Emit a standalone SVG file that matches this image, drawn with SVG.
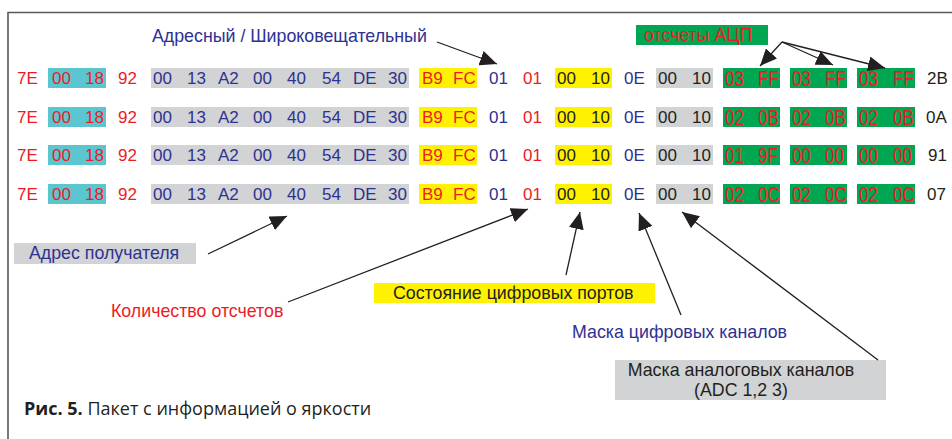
<svg xmlns="http://www.w3.org/2000/svg" width="952" height="439" viewBox="0 0 952 439">
<defs>
<style>
text{font-family:"Liberation Sans",Arial,sans-serif;font-size:17px}
.lb{font-size:17.8px}
.r{fill:#ed1c24}.b{fill:#2e3192}.k{fill:#231f20}
.cy{fill:#5bc5d0}.gr{fill:#d1d3d4}.ye{fill:#fff200}.gn{fill:#00a651}
.cap{font-family:"Open Sans","Noto Sans",sans-serif;font-size:18px;fill:#231f20}
.ln{stroke:#231f20;stroke-width:1.3;fill:none;marker-end:url(#ah)}
</style>
<marker id="ah" markerUnits="userSpaceOnUse" markerWidth="18" markerHeight="15" refX="17" refY="7.5" orient="auto">
<path d="M0,0 L17,7.5 L0,15 z" fill="#231f20"/>
</marker>
<g id="rowbase">
<rect class="cy" x="48" y="0" width="58" height="20"/>
<rect class="gr" x="151" y="0" width="258" height="20"/>
<rect class="ye" x="419" y="0" width="58" height="20"/>
<rect class="ye" x="555" y="0" width="57" height="20"/>
<rect class="gr" x="656" y="0" width="57" height="20"/>
<rect class="gn" x="723" y="0" width="57" height="20"/>
<rect class="gn" x="790" y="0" width="57" height="20"/>
<rect class="gn" x="857" y="0" width="58" height="20"/>
<text class="r" x="17" y="16">7E</text>
<text class="r" x="52" y="16">00</text>
<text class="r" x="85" y="16">18</text>
<text class="r" x="118" y="16">92</text>
<text class="b" x="153" y="16">00</text>
<text class="b" x="187" y="16">13</text>
<text class="b" x="218" y="16">A2</text>
<text class="b" x="253" y="16">00</text>
<text class="b" x="287" y="16">40</text>
<text class="b" x="322" y="16">54</text>
<text class="b" x="353" y="16">DE</text>
<text class="b" x="388" y="16">30</text>
<text class="r" x="422" y="16">B9</text>
<text class="r" x="453" y="16">FC</text>
<text class="b" x="489" y="16">01</text>
<text class="r" x="523" y="16">01</text>
<text class="k" x="557" y="16">00</text>
<text class="k" x="591" y="16">10</text>
<text class="b" x="624" y="16">0E</text>
<text class="k" x="658" y="16">00</text>
<text class="k" x="692" y="16">10</text>
</g>
</defs>
<path d="M8,439 V12.5 H952" fill="none" stroke="#58595b" stroke-width="1.6"/>

<g id="row1" transform="translate(0,68)">
<use href="#rowbase"/>
<g class="r">
<text transform="matrix(1 0 0 1.3 725 18)">03</text><text transform="matrix(1 0 0 1.3 758 18)">FF</text>
<text transform="matrix(1 0 0 1.3 792 18)">03</text><text transform="matrix(1 0 0 1.3 825 18)">FF</text>
<text transform="matrix(1 0 0 1.3 859 18)">03</text><text transform="matrix(1 0 0 1.3 893 18)">FF</text>
</g>
<text class="k" x="927" y="16">2B</text>
</g>
<g id="row2" transform="translate(0,107)">
<use href="#rowbase"/>
<g class="r">
<text transform="matrix(1 0 0 1.3 725 18)">02</text><text transform="matrix(1 0 0 1.3 758 18)">0B</text>
<text transform="matrix(1 0 0 1.3 792 18)">02</text><text transform="matrix(1 0 0 1.3 825 18)">0B</text>
<text transform="matrix(1 0 0 1.3 859 18)">02</text><text transform="matrix(1 0 0 1.3 893 18)">0B</text>
</g>
<text class="k" x="926" y="16">0A</text>
</g>
<g id="row3" transform="translate(0,145)">
<use href="#rowbase"/>
<g class="r">
<text transform="matrix(1 0 0 1.3 725 18)">01</text><text transform="matrix(1 0 0 1.3 758 18)">9F</text>
<text transform="matrix(1 0 0 1.3 792 18)">00</text><text transform="matrix(1 0 0 1.3 825 18)">00</text>
<text transform="matrix(1 0 0 1.3 859 18)">00</text><text transform="matrix(1 0 0 1.3 893 18)">00</text>
</g>
<text class="k" x="928" y="16">91</text>
</g>
<g id="row4" transform="translate(0,184)">
<use href="#rowbase"/>
<g class="r">
<text transform="matrix(1 0 0 1.3 725 18)">02</text><text transform="matrix(1 0 0 1.3 758 18)">0C</text>
<text transform="matrix(1 0 0 1.3 792 18)">02</text><text transform="matrix(1 0 0 1.3 825 18)">0C</text>
<text transform="matrix(1 0 0 1.3 859 18)">02</text><text transform="matrix(1 0 0 1.3 893 18)">0C</text>
</g>
<text class="k" x="927" y="16">07</text>
</g>

<g id="lbl-broadcast"><text class="b lb" x="152" y="42">Адресный / Широковещательный</text></g>
<g id="lbl-adc"><rect class="gn" x="636" y="25" width="132" height="20"/><text class="r lb" x="644" y="41">отсчеты АЦП</text></g>
<g id="lbl-dest"><rect class="gr" x="14" y="243" width="182" height="21"/><text class="b lb" x="29" y="259">Адрес получателя</text></g>
<g id="lbl-count"><text class="r lb" x="111" y="317">Количество отсчетов</text></g>
<g id="lbl-ports"><rect class="ye" x="374" y="283" width="281" height="20"/><text class="k lb" x="393" y="299">Состояние цифровых портов</text></g>
<g id="lbl-dmask"><text class="b lb" x="572" y="338">Маска цифровых каналов</text></g>
<g id="lbl-amask"><rect class="gr" x="615" y="360" width="271" height="40"/>
<text class="k lb" x="741" y="376" text-anchor="middle">Маска аналоговых каналов</text>
<text class="k lb" x="741" y="396" text-anchor="middle">(ADC 1,2 3)</text></g>
<g id="caption"><text class="cap" x="24" y="415"><tspan font-weight="bold">Рис. 5.</tspan> Пакет с информацией о яркости</text></g>

<g id="connectors">
<path class="ln" d="M437,42 L497,64"/>
<path class="ln" d="M782,42 L760,66"/>
<path class="ln" d="M782,42 L833,65"/>
<path class="ln" d="M782,42 L885,68"/>
<path class="ln" d="M208,254 L287,216"/>
<path class="ln" d="M288,302 L528,209"/>
<path class="ln" d="M566,275 L580,212"/>
<path class="ln" d="M681,315 L639,213"/>
<path class="ln" d="M878,360 L682,212"/>
</g>
</svg>
